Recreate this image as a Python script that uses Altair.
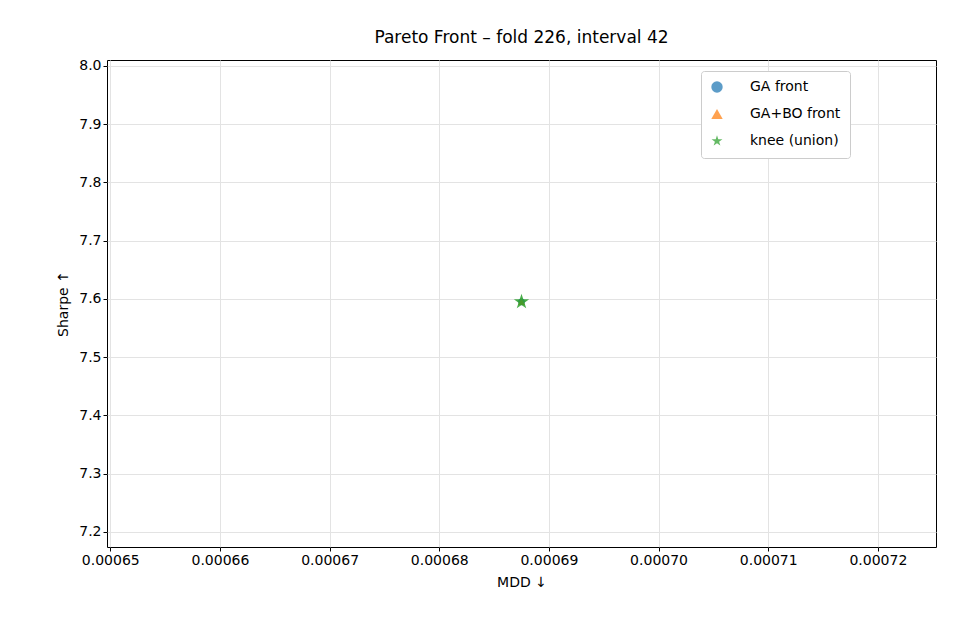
import altair as alt
import pandas as pd

series = ["GA front", "GA+BO front", "knee (union)"]
mdd = [0.0006875, 0.0006875, 0.0006875]
sharpe = [7.595, 7.595, 7.595]
colors = ["#1f77b4", "#ff7f0e", "#2ca02c"]
star = ("M0,-1L0.2245,-0.309L0.951,-0.309L0.363,0.118L0.588,0.809L0,0.382"
        "L-0.588,0.809L-0.363,0.118L-0.951,-0.309L-0.2245,-0.309Z")
shapes = ["circle", "triangle-up", star]
sizes = [45, 50, 260]
x_ticks = [0.00065, 0.00066, 0.00067, 0.00068, 0.00069, 0.00070, 0.00071, 0.00072]
y_ticks = [7.2, 7.3, 7.4, 7.5, 7.6, 7.7, 7.8, 7.9, 8.0]

df = pd.DataFrame({"series": series, "mdd": mdd, "sharpe": sharpe})

base = alt.Chart(df).encode(
    x=alt.X("mdd:Q", title="MDD ↓",
            scale=alt.Scale(domain=[0.0006497, 0.0007253], nice=False, zero=False),
            axis=alt.Axis(values=x_ticks, format=".5f")),
    y=alt.Y("sharpe:Q", title="Sharpe ↑",
            scale=alt.Scale(domain=[7.174, 8.0103], nice=False, zero=False),
            axis=alt.Axis(values=y_ticks, format=".1f")),
    color=alt.Color("series:N", scale=alt.Scale(domain=series, range=colors),
                    legend=alt.Legend(title=None, orient="none", legendX=594, legendY=11,
                                      fillColor="white", strokeColor="#cccccc",
                                      padding=9, cornerRadius=3, labelFontSize=14,
                                      rowPadding=10, symbolSize=130, labelOffset=26,
                                      symbolOpacity=0.9)),
    shape=alt.Shape("series:N", scale=alt.Scale(domain=series, range=shapes)),
)

layers = [
    base.transform_filter(alt.datum.series == s)
        .mark_point(filled=True, opacity=0.85, size=sz)
    for s, sz in zip(series, sizes)
]

chart = alt.layer(*layers).properties(
    width=829, height=487,
    autosize=alt.AutoSizeParams(type="none"),
    padding={"left": 99, "top": 52, "right": 16, "bottom": 85},
    title=alt.Title("Pareto Front – fold 226, interval 42", fontSize=17,
                    fontWeight="normal", offset=12),
).configure(font="DejaVu Sans").configure_axis(
    labelFontSize=14, titleFontSize=14, titleFontWeight="normal",
    labelColor="black", titleColor="black", titlePadding=8,
    gridColor="#e3e3e3", domain=False, tickColor="black", tickSize=4,
).configure_view(stroke="black", strokeWidth=1)

chart.save("out.html", embed_options={"renderer": "svg", "actions": False})
